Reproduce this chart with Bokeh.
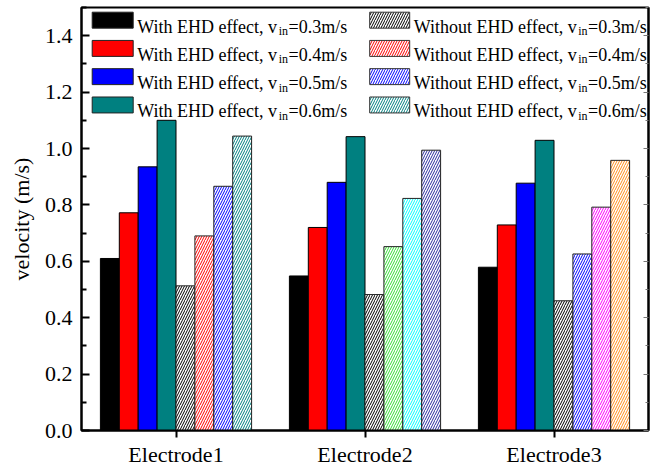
from bokeh.plotting import figure
from bokeh.models import (ColumnDataSource, FactorRange, Range1d, FixedTicker,
                          LinearAxis, CustomJSTickFormatter, PrintfTickFormatter)
from bokeh.transform import dodge
from bokeh.core.properties import value
from bokeh.embed import file_html
from bokeh.resources import INLINE

# ---------------- data ----------------
categories = ["Electrode1", "Electrode2", "Electrode3"]

with_03 = [0.610, 0.548, 0.579]
with_04 = [0.772, 0.720, 0.729]
with_05 = [0.935, 0.880, 0.877]
with_06 = [1.100, 1.042, 1.029]

without_03 = [0.513, 0.482, 0.460]
without_04 = [0.690, 0.652, 0.626]
without_05 = [0.866, 0.823, 0.792]
without_06 = [1.044, 0.994, 0.958]

speeds = ["0.3", "0.4", "0.5", "0.6"]
with_colors = ["#000000", "#FF0000", "#0000FF", "#008080"]
# hatch colours of the "without" bars, per electrode
without_hatch = [
    ["#000000", "#000000", "#000000"],
    ["#FF0000", "#33DD33", "#0000FF"],
    ["#0000FF", "#00FFFF", "#FF00FF"],
    ["#008080", "#2B2B9E", "#FF8C1A"],
]
legend_hatch = ["#000000", "#FF0000", "#0000FF", "#008080"]

y_ticks = [0.0, 0.2, 0.4, 0.6, 0.8, 1.0, 1.2, 1.4]
y_minor = [0.1, 0.3, 0.5, 0.7, 0.9, 1.1, 1.3, 1.5]

# ---------------- layout ----------------
FONT = "Liberation Serif"
W, H = 658, 469
FL, FR, FT, FB = 81, 648, 7, 431
Y0, Y1 = 0.0, 1.5

p = figure(width=W, height=H, x_range=FactorRange(*categories),
           y_range=Range1d(Y0, Y1), output_backend="svg", toolbar_location=None,
           min_border_left=FL, min_border_right=W - FR,
           min_border_top=FT, min_border_bottom=H - FB)
p.background_fill_color = "white"
p.border_fill_color = "white"
p.outline_line_color = "black"
p.outline_line_width = 2
p.xgrid.visible = False
p.ygrid.visible = False

# helpers to place legend pieces (pixel -> data)
def px2x(px):
    return (px - FL) / (FR - FL) * len(categories)

def px2y(py):
    return Y0 + (FB - py) / (FB - FT) * (Y1 - Y0)

def pxw(w):
    return w / (FR - FL) * len(categories)

def pxh(h):
    return h / (FB - FT) * (Y1 - Y0)

# ---------------- bars ----------------
with_series = [with_03, with_04, with_05, with_06]
without_series = [without_03, without_04, without_05, without_06]
bw = 0.1
for j, vals in enumerate(with_series):
    src = ColumnDataSource(dict(cat=categories, top=vals))
    p.vbar(x=dodge("cat", -0.35 + bw * j, range=p.x_range), top="top", width=bw,
           source=src, fill_color=with_colors[j], line_color="black", line_width=1)

for j, vals in enumerate(without_series):
    src = ColumnDataSource(dict(cat=categories, top=vals, hc=without_hatch[j]))
    p.vbar(x=dodge("cat", 0.05 + bw * j, range=p.x_range), top="top", width=bw,
           source=src, fill_color="white", line_color="#222222", line_width=1,
           hatch_pattern="/", hatch_color="hc", hatch_scale=5, hatch_weight=1)

# ---------------- custom legend ----------------
TW = {"W": 944, "i": 278, "t": 278, "h": 500, " ": 250, "E": 611, "H": 722,
      "D": 722, "e": 444, "f": 333, "c": 444, ",": 250, "v": 500, "n": 500,
      "=": 564, ".": 250, "m": 778, "/": 278, "s": 389, "o": 500, "u": 500}
for d in "0123456789":
    TW[d] = 500

def tw(s, size):
    return sum(TW.get(ch, 500) for ch in s) / 1000.0 * size

LS, SS = 18, 12
row_py = [19.7, 48.0, 76.3, 104.7]
cols = [("With EHD effect, v", 112.2, 136.7, False),
        ("Without EHD effect, v", 389.2, 413.3, True)]

for head, sw_cx, tx0, hatched in cols:
    sx = [px2x(sw_cx)] * 4
    sy = [px2y(py) for py in row_py]
    if hatched:
        p.rect(x=sx, y=sy, width=pxw(40), height=pxh(16), fill_color="white",
               line_color="#333333", line_width=1, hatch_pattern="/",
               hatch_color=legend_hatch, hatch_scale=5, hatch_weight=1)
    else:
        p.rect(x=sx, y=sy, width=pxw(41), height=pxh(16), fill_color=with_colors,
               line_color="#222222", line_width=1)
    w1 = tw(head, LS)
    w2 = tw("in", SS)
    main = ColumnDataSource(dict(x=[px2x(tx0)] * 4,
                                 y=[px2y(py + 6.5) for py in row_py],
                                 t=[head] * 4))
    sub = ColumnDataSource(dict(x=[px2x(tx0 + w1 + 0.5)] * 4,
                                y=[px2y(py + 11) for py in row_py],
                                t=["in"] * 4))
    rest = ColumnDataSource(dict(x=[px2x(tx0 + w1 + w2 + 1.0)] * 4,
                                 y=[px2y(py + 6.5) for py in row_py],
                                 t=["=" + s + "m/s" for s in speeds]))
    for src, size in ((main, LS), (sub, SS), (rest, LS)):
        p.text(x="x", y="y", text="t", source=src, text_font=value(FONT),
               text_font_size=f"{size}px", text_color="black",
               text_align="left", text_baseline="alphabetic")

# ---------------- axes ----------------
xa = p.below[0]
xa.axis_line_width = 2
xa.major_tick_line_width = 2
xa.major_tick_in = 0
xa.major_tick_out = 7
xa.minor_tick_line_color = None
xa.major_label_text_font = FONT
xa.major_label_text_font_size = "22px"
xa.major_label_text_color = "black"
xa.major_label_standoff = 4

ya = p.left[0]
ya.ticker = FixedTicker(ticks=y_ticks, minor_ticks=y_minor)
ya.formatter = PrintfTickFormatter(format="%.1f")
ya.axis_line_width = 2
ya.major_tick_line_width = 2
ya.minor_tick_line_width = 2
ya.major_tick_in = 8
ya.major_tick_out = 0
ya.minor_tick_in = 5
ya.minor_tick_out = 0
ya.major_label_text_font = FONT
ya.major_label_text_font_size = "22px"
ya.major_label_text_color = "black"
ya.major_label_standoff = 9
ya.axis_label = "velocity (m/s)"
ya.axis_label_text_font = FONT
ya.axis_label_text_font_style = "normal"
ya.axis_label_text_font_size = "22px"
ya.axis_label_text_color = "black"
ya.axis_label_standoff = 8

ra = LinearAxis(ticker=FixedTicker(ticks=y_ticks, minor_ticks=y_minor),
                formatter=CustomJSTickFormatter(code="return ''"))
ra.axis_line_width = 2
ra.major_tick_line_width = 1
ra.minor_tick_line_width = 1
ra.major_tick_line_color = "#777777"
ra.minor_tick_line_color = "#777777"
ra.major_tick_in = 5
ra.major_tick_out = 0
ra.minor_tick_in = 3
ra.minor_tick_out = 0
ra.major_label_standoff = 0
ra.major_label_text_font_size = "1px"
p.add_layout(ra, "right")

open("out.html", "w").write(file_html(p, INLINE))
